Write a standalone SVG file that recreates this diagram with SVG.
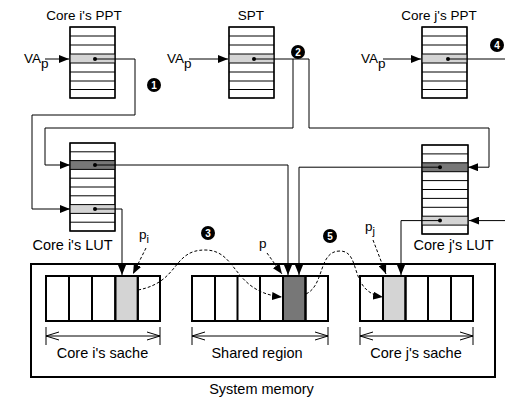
<svg xmlns="http://www.w3.org/2000/svg" width="505" height="403" viewBox="0 0 505 403">
<defs>
<marker id="ah" viewBox="0 0 10 8" refX="10" refY="4" markerWidth="10" markerHeight="8" markerUnits="userSpaceOnUse" orient="auto"><path d="M0,0 L10,4 L0,8 Z" fill="#000"/></marker>
<marker id="vh" viewBox="0 0 13 10" refX="13" refY="5" markerWidth="13" markerHeight="10" markerUnits="userSpaceOnUse" orient="auto-start-reverse"><path d="M0,1 L13,5 L0,9" fill="none" stroke="#000" stroke-width="1"/></marker>
</defs>
<style>
text{font-family:"Liberation Sans",Arial,sans-serif;font-size:13.5px;fill:#000}
.big{font-size:14.5px}
.tb{fill:#fff;stroke:#000;stroke-width:1.2}
.rl{stroke:#000;stroke-width:1}
.lt{fill:#d4d4d4}
.dk{fill:#777}
.cn{fill:none;stroke:#000;stroke-width:1}
.ds{fill:none;stroke:#000;stroke-width:1;stroke-dasharray:3,2}
.cell{stroke:#000;stroke-width:2}
.num{font-family:"Liberation Sans",Arial,sans-serif;font-size:10px;font-weight:bold;fill:#fff;text-anchor:middle}
.mid{text-anchor:middle}
</style>

<g id="core-i-ppt">
<text x="84" y="20" class="mid">Core i's PPT</text>
<rect x="70" y="27" width="45" height="71" class="tb"/>
<rect x="70" y="54" width="45" height="9" class="lt"/>
<path class="rl" d="M70,36H115M70,45H115M70,54H115M70,63H115M70,72H115M70,81H115M70,89.5H115"/>
<rect x="70" y="27" width="45" height="71" fill="none" stroke="#000" stroke-width="1.2"/>
<text x="24" y="63">VA<tspan dy="5">p</tspan></text>
</g>

<g id="spt">
<text x="251" y="20" class="mid">SPT</text>
<rect x="229" y="27" width="45" height="71" class="tb"/>
<rect x="229" y="54" width="45" height="9" class="lt"/>
<path class="rl" d="M229,36H274M229,45H274M229,54H274M229,63H274M229,72H274M229,81H274M229,89.5H274"/>
<rect x="229" y="27" width="45" height="71" fill="none" stroke="#000" stroke-width="1.2"/>
<text x="167" y="63">VA<tspan dy="5">p</tspan></text>
</g>

<g id="core-j-ppt">
<text x="439" y="20" class="mid">Core j's PPT</text>
<rect x="422" y="27" width="45" height="71" class="tb"/>
<rect x="422" y="54" width="45" height="9" class="lt"/>
<path class="rl" d="M422,36H467M422,45H467M422,54H467M422,63H467M422,72H467M422,81H467M422,89.5H467"/>
<rect x="422" y="27" width="45" height="71" fill="none" stroke="#000" stroke-width="1.2"/>
<text x="361" y="63">VA<tspan dy="5">p</tspan></text>
</g>

<g id="core-i-lut">
<rect x="70" y="143" width="45" height="88" class="tb"/>
<rect x="70" y="160.6" width="45" height="8.8" class="dk"/>
<rect x="70" y="204.6" width="45" height="8.8" class="lt"/>
<path class="rl" d="M70,151.8H115M70,160.6H115M70,169.4H115M70,178.2H115M70,187H115M70,195.8H115M70,204.6H115M70,213.4H115M70,222.2H115"/>
<rect x="70" y="143" width="45" height="88" fill="none" stroke="#000" stroke-width="1.2"/>
<text x="72.5" y="250" class="mid big">Core i's LUT</text>
</g>

<g id="core-j-lut">
<rect x="422" y="145" width="46" height="89" class="tb"/>
<rect x="422" y="162.8" width="46" height="8.9" class="dk"/>
<rect x="422" y="216.2" width="46" height="8.9" class="lt"/>
<path class="rl" d="M422,153.9H468M422,162.8H468M422,171.7H468M422,180.6H468M422,189.5H468M422,198.4H468M422,207.3H468M422,216.2H468M422,225.1H468"/>
<rect x="422" y="145" width="46" height="89" fill="none" stroke="#000" stroke-width="1.2"/>
<text x="453.5" y="250" class="mid big">Core j's LUT</text>
</g>

<g id="system-memory">
<rect x="31" y="264" width="464" height="113" fill="none" stroke="#000" stroke-width="2"/>
<text x="261.5" y="394" class="mid big">System memory</text>
</g>

<g id="core-i-cache">
<rect x="46" y="276" width="114" height="45" fill="#fff" class="cell"/>
<rect x="115.3" y="276" width="22.5" height="45" class="lt cell"/>
<path class="cell" d="M69,276V321M92,276V321M115.3,276V321M137.8,276V321"/>
<text x="102.5" y="358" class="mid big">Core i's sache</text>
</g>

<g id="shared-region">
<rect x="192" y="276" width="136" height="45" fill="#fff" class="cell"/>
<rect x="283" y="276" width="22.5" height="45" class="dk cell"/>
<path class="cell" d="M215,276V321M237.5,276V321M260,276V321M283,276V321M305.5,276V321"/>
<text x="257" y="358" class="mid big">Shared region</text>
</g>

<g id="core-j-cache">
<rect x="360" y="276" width="113" height="45" fill="#fff" class="cell"/>
<rect x="383" y="276" width="22.5" height="45" class="lt cell"/>
<path class="cell" d="M383,276V321M405.5,276V321M428,276V321M451,276V321"/>
<text x="416" y="358" class="mid big">Core j's sache</text>
</g>

<g id="labels">
<text x="139" y="239">p<tspan font-size="11" dy="4">i</tspan></text>
<text x="259" y="248">p</text>
<text x="365" y="231">p<tspan font-size="11" dy="4">j</tspan></text>
<circle cx="154" cy="85" r="7"/><text x="154" y="88.6" class="num">1</text>
<circle cx="298" cy="52" r="7"/><text x="298" y="55.6" class="num">2</text>
<circle cx="208" cy="233" r="7"/><text x="208" y="236.6" class="num">3</text>
<circle cx="497" cy="45" r="7"/><text x="497" y="48.6" class="num">4</text>
<circle cx="330" cy="236" r="7"/><text x="330" y="239.6" class="num">5</text>
</g>

<g id="connectors">
<path class="cn" marker-end="url(#ah)" d="M45,59H69"/>
<path class="cn" marker-end="url(#ah)" d="M189,59H228"/>
<path class="cn" marker-end="url(#ah)" d="M383,59H421"/>
<circle cx="95" cy="59" r="2"/>
<circle cx="254" cy="59" r="2"/>
<circle cx="448" cy="59" r="2"/>
<path class="cn" d="M448,59H505"/>
<path class="cn" marker-end="url(#ah)" d="M95,59H135V115H32V209H70"/>
<path class="cn" marker-end="url(#ah)" d="M254,59H309V128H489V167.2H468"/>
<path class="cn" marker-end="url(#ah)" d="M293,59V128H45V165H70"/>
<circle cx="95" cy="165" r="2"/>
<circle cx="95" cy="209" r="2"/>
<circle cx="440" cy="167.2" r="2"/>
<circle cx="440" cy="220.6" r="2"/>
<path class="cn" marker-end="url(#ah)" d="M95,165H288V275"/>
<path class="cn" marker-end="url(#ah)" d="M440,167.2H299V275"/>
<path class="cn" marker-end="url(#ah)" d="M95,209H122V275"/>
<path class="cn" marker-end="url(#ah)" d="M440,220.6H401V275"/>
<path class="cn" marker-end="url(#ah)" d="M505,220.6H469"/>
<path class="ds" marker-end="url(#ah)" d="M146,248L133,274"/>
<path class="ds" marker-end="url(#ah)" d="M267,253L282,274"/>
<path class="ds" marker-end="url(#ah)" d="M373,240L386,274"/>
<path class="ds" marker-end="url(#ah)" d="M138,290C180,282 172,250 205,250C238,250 232,292 282,297"/>
<path class="ds" marker-end="url(#ah)" d="M306,294C325,285 318,251 340,251C362,251 348,292 383,297"/>
<path class="cn" marker-start="url(#vh)" marker-end="url(#vh)" d="M46,336H160"/>
<path class="cn" d="M46,327V345M160,327V345"/>
<path class="cn" marker-start="url(#vh)" marker-end="url(#vh)" d="M192,336H328"/>
<path class="cn" d="M192,327V345M328,327V345"/>
<path class="cn" marker-start="url(#vh)" marker-end="url(#vh)" d="M360,336H473"/>
<path class="cn" d="M360,327V345M473,327V345"/>
</g>
</svg>
